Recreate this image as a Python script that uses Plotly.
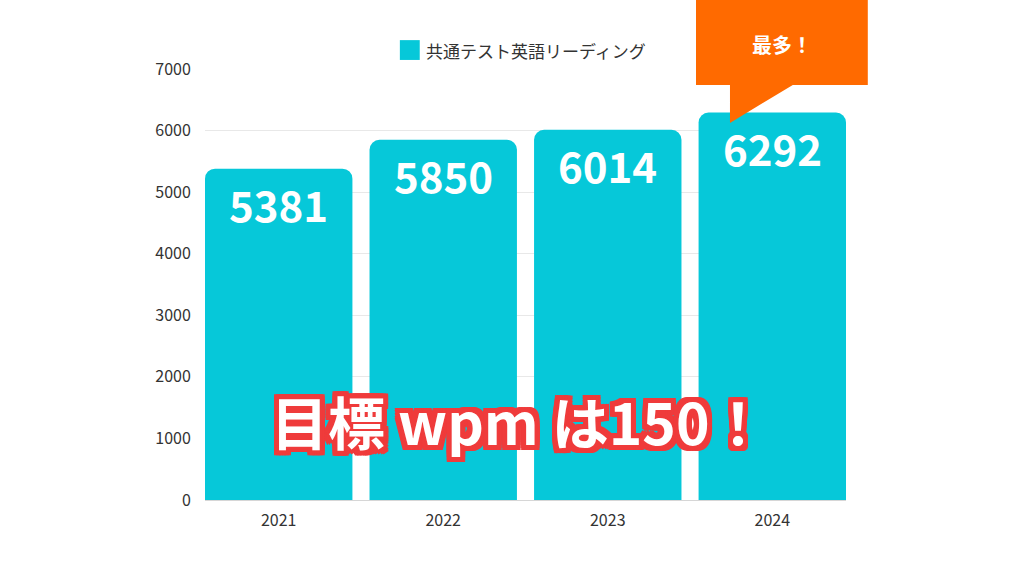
import plotly.graph_objects as go

years = ["2021", "2022", "2023", "2024"]
words = [5381, 5850, 6014, 6292]
series_name = "共通テスト英語リーディング"
y_ticks = [0, 1000, 2000, 3000, 4000, 5000, 6000, 7000]

BAR = "#06C8D9"
RED = "#EF3B3B"
ORANGE = "#FF6A00"
JP = "Noto Sans CJK JP"

fig = go.Figure()

fig.add_trace(
    go.Bar(
        x=years,
        y=words,
        name=series_name,
        marker=dict(color=BAR, cornerradius=10, line=dict(width=0)),
        showlegend=False,
    )
)

# value labels inside the top of each bar
# (category index, since numeric-looking strings are read as indices)
for i, v in enumerate(words):
    fig.add_annotation(
        x=i, y=v, yanchor="top", yshift=-2, showarrow=False,
        text=f"<b>{v}</b>",
        font=dict(family=JP, size=42, color="white"),
    )

# legend drawn by hand (bigger square than plotly's)
fig.add_shape(type="rect", xref="paper", yref="paper",
              x0=0.304, x1=0.335, y0=1.021, y1=1.067,
              fillcolor=BAR, line=dict(width=0))
fig.add_annotation(xref="paper", yref="paper", x=0.342, y=1.044,
                   xanchor="left", yanchor="middle", showarrow=False,
                   text=series_name, font=dict(family=JP, size=17, color="#333333"))

# orange callout box with pointer
fig.add_shape(type="path", xref="paper", yref="paper",
              path="M 0.766 1.18 L 1.034 1.18 L 1.034 0.963 L 0.917 0.963 L 0.819 0.875 L 0.819 0.963 L 0.766 0.963 Z",
              fillcolor=ORANGE, line=dict(width=0), layer="above")
fig.add_annotation(xref="paper", yref="paper", x=0.9, y=1.058,
                   xanchor="center", yanchor="middle", showarrow=False,
                   text="<b>最多！</b>", font=dict(family=JP, size=20, color="white"))

# big overlay caption
shadow = ", ".join(f"{dx}px {dy}px 0 {RED}" for dx in (-5, -3, 0, 3, 5) for dy in (-5, -3, 0, 3, 5))
fig.add_annotation(xref="paper", yref="paper", x=0.49, y=0.186,
                   xanchor="center", yanchor="middle", showarrow=False,
                   text="<b>目標 wpm は150！</b>",
                   font=dict(family=JP, size=57, color="white", shadow=shadow))

fig.update_layout(
    width=1024, height=576,
    margin=dict(l=205, r=178, t=69, b=76),
    paper_bgcolor="white", plot_bgcolor="white",
    bargap=0.104,
    font=dict(family=JP, size=16, color="#333333"),
    showlegend=False,
    xaxis=dict(type="category", range=[-0.448, 3.448], showgrid=False,
               ticks="outside", ticklen=6, tickcolor="white",
               showline=True, linecolor="#d6d6d6", linewidth=1,
               tickfont=dict(family=JP, size=16, color="#333333")),
    yaxis=dict(range=[0, 7000], tickvals=y_ticks, showgrid=True, gridcolor="#e8e8e8",
               zeroline=False, ticks="outside", ticklen=10, tickcolor="white",
               tickfont=dict(family=JP, size=16, color="#333333")),
)

fig.write_html("out.html", config={"displayModeBar": False},
               post_script="document.body.style.margin = '0';")
